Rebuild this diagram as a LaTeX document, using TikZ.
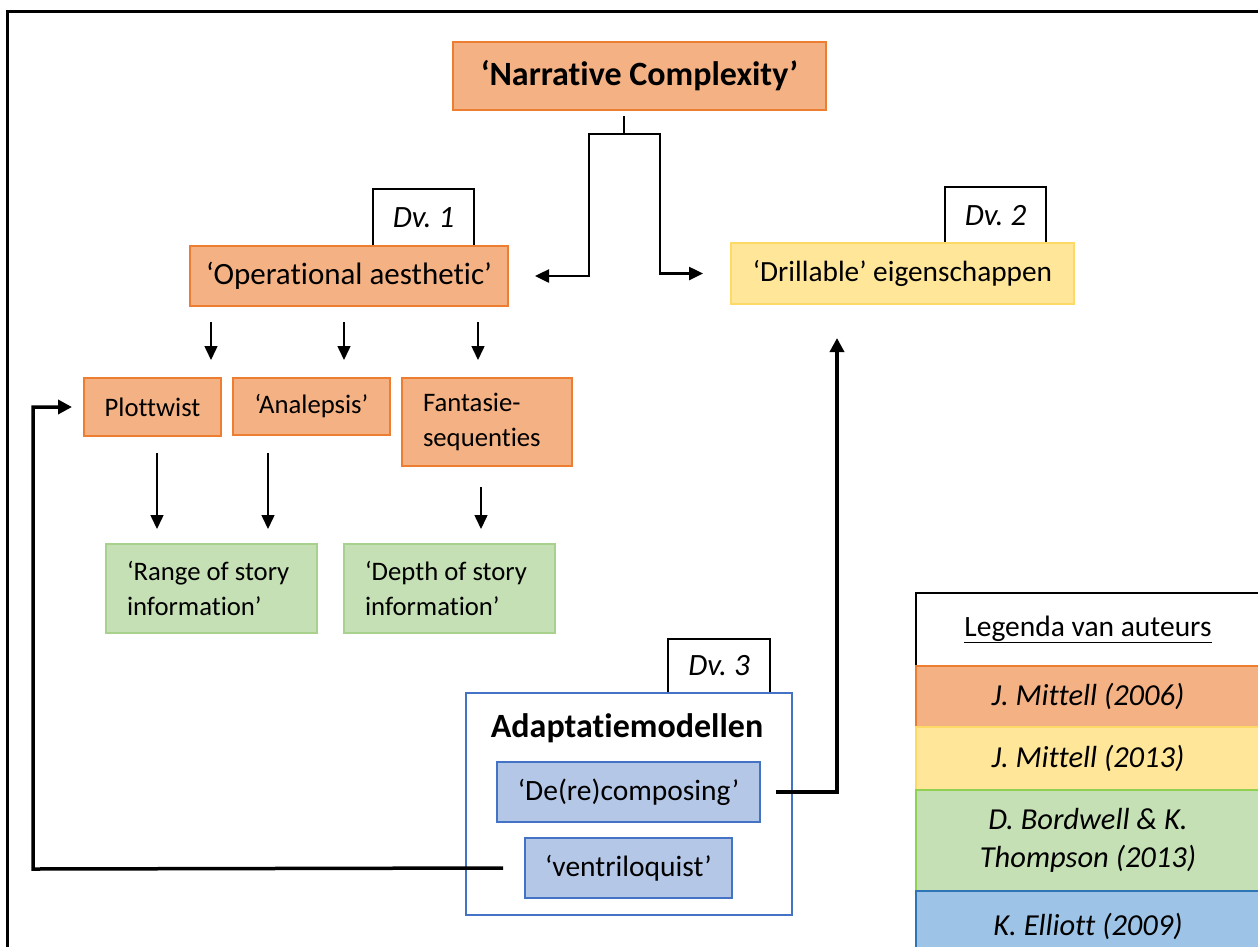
\documentclass[tikz,border=0pt]{standalone}
\usepackage{fontspec}
\setmainfont{Carlito}[Ligatures={NoCommon}]
\usetikzlibrary{arrows.meta,calc}
\frenchspacing
\definecolor{orF}{HTML}{F4B183}
\definecolor{orD}{HTML}{ED7D31}
\definecolor{yeF}{HTML}{FFE699}
\definecolor{yeD}{HTML}{FFD966}
\definecolor{grF}{HTML}{C5E0B4}
\definecolor{grD}{HTML}{A9D18E}
\definecolor{grL}{HTML}{92D050}
\definecolor{blF}{HTML}{B4C7E7}
\definecolor{blD}{HTML}{4472C4}
\definecolor{lbF}{HTML}{9DC3E6}
\definecolor{lbD}{HTML}{2E75B6}
\tikzset{
  base/.style={inner sep=0pt, outer sep=0pt, font=\fontsize{31}{34}\selectfont},
  small/.style={font=\fontsize{26.7}{35}\selectfont},
  obox/.style={base, rectangle, fill=orF, draw=orD, line width=2pt},
  ybox/.style={base, rectangle, fill=yeF, draw=yeD, line width=2pt},
  gbox/.style={base, rectangle, fill=grF, draw=grD, line width=1.5pt},
  bbox/.style={base, rectangle, fill=blF, draw=blD, line width=1.5pt, font=\fontsize{29.5}{34}\selectfont},
  dvbox/.style={base, rectangle, fill=white, draw=black, line width=1.5pt, font=\fontsize{31}{34}\selectfont\itshape},
  thinarr/.style={line width=1.5pt, -{Triangle[length=14pt,width=13pt]}},
  midarr/.style={line width=2.5pt, -{Triangle[length=14pt,width=13pt]}},
  bigarr/.style={line width=3.5pt, -{Triangle[length=14pt,width=14pt]}},
  legcell/.style={base, rectangle, minimum width=344pt, font=\fontsize{30.5}{38}\selectfont\itshape, align=center}
}
\begin{document}
\begin{tikzpicture}[x=1pt,y=-1pt]
\useasboundingbox (0,0) rectangle (1258,946);
\clip (0,0) rectangle (1258,946);
\fill[white] (0,0) rectangle (1258,946);
% outer frame
\draw[line width=3pt] (7,950) -- (7,11) -- (1262,11);

% top node
\node[obox, minimum width=373pt, minimum height=68pt, font=\fontsize{34}{38}\selectfont\bfseries] (nc) at (639.5,76) {‘Narrative Complexity’};

% Dv boxes (behind)
\node[dvbox, minimum width=101pt, minimum height=57pt] (dv1) at (423.5,217.5) {Dv. 1};
\node[dvbox, minimum width=101pt, minimum height=57pt] (dv2) at (995.5,215.5) {Dv. 2};

\node[obox, minimum width=318pt, minimum height=60pt] (oa) at (349,276) {‘Operational aesthetic’};
\node[ybox, minimum width=343pt, minimum height=61pt, font=\fontsize{29.3}{34}\selectfont] (dr) at (902.5,273.5) {‘Drillable’ eigenschappen};

% top connector
\coordinate (j) at (624,134);
\draw[line width=2.5pt] ([yshift=-6pt]nc.south -| j) -- (j);
\draw[midarr] (j) -- (589,134) |- ([xshift=27pt]oa.east);
\draw[midarr] (j) -- (660,134) |- ([xshift=-28pt]dr.west);

% second row
\node[obox, small, minimum width=137pt, minimum height=58pt] (pt) at (152.5,407) {Plottwist};
\node[obox, small, minimum width=157pt, minimum height=57pt] (an) at (311.5,406.5) {‘Analepsis’};
\node[obox, small, minimum height=88pt, inner xsep=21pt, text width=128pt, align=flush left] (fs) at (487,422) {Fantasie-\\sequenties};

% arrows oa -> row
\coordinate (a1s) at (211,322); \coordinate (a1e) at (211,360);
\coordinate (a2s) at (344,322); \coordinate (a2e) at (344,360);
\coordinate (a3s) at (478,322); \coordinate (a3e) at (478,360);
\draw[thinarr] (a1s) -- (a1e);
\draw[thinarr] (a2s) -- (a2e);
\draw[thinarr] (a3s) -- (a3e);

% green row
\node[gbox, small, minimum height=89pt, inner xsep=21pt, text width=169pt, align=flush left] (rg) at (211.5,588.5) {‘Range of story\\information’};
\node[gbox, small, minimum height=89pt, inner xsep=21pt, text width=169pt, align=flush left] (dp) at (449.5,588.5) {‘Depth of story\\information’};

\coordinate (b1s) at (157,453); \coordinate (b1e) at (157,529);
\coordinate (b2s) at (268,453); \coordinate (b2e) at (268,529);
\coordinate (b3s) at (481,487); \coordinate (b3e) at (481,529);
\draw[thinarr] (b1s) -- (b1e);
\draw[thinarr] (b2s) -- (b2e);
\draw[thinarr] (b3s) -- (b3e);

% adaptatie group
\node[dvbox, minimum width=102pt, minimum height=54pt] (dv3) at (719,666) {Dv. 3};
\node[base, rectangle, fill=white, draw=blD, line width=2pt, minimum width=326pt, minimum height=222pt] (ad) at (629,804) {};
\node[base, font=\fontsize{34}{38}\selectfont\bfseries] (adt) at (627,728) {Adaptatiemodellen};
\node[bbox, minimum width=263pt, minimum height=60pt] (dc) at (628.5,792) {‘De(re)composing’};
\node[bbox, minimum width=207pt, minimum height=60pt] (vq) at (628.5,868) {‘ventriloquist’};

% long connectors
\coordinate (up) at (837,338);
\draw[bigarr] ([xshift=16pt]dc.east) -| (up);
\coordinate (lc) at (33,869);
\draw[bigarr] ([xshift=-22pt]vq.west) -- (lc) |- ([xshift=-12pt]pt.west);

% legend
\node[legcell, minimum height=73pt, fill=white, font=\fontsize{29.5}{34}\selectfont] (lh) at (1088,629.5) {\underline{Legenda van auteurs}};
\draw[line width=2pt] (916,950) -- (916,593) -- (1262,593);
\node[legcell, minimum height=61pt, fill=orF, draw=orD, line width=2pt] (l1) at (1088,696.5) {J. Mittell (2006)};
\node[legcell, minimum height=63pt, fill=yeF, draw=yeD, line width=2pt] (l2) at (1088,758.5) {J. Mittell (2013)};
\node[legcell, minimum height=101pt, fill=grF, draw=grL, line width=2pt] (l3) at (1088,840.5) {D. Bordwell \& K.\\Thompson (2013)};
\node[legcell, minimum height=70pt, fill=lbF, draw=lbD, line width=2pt] (l4) at (1088,926) {K. Elliott (2009)};
\end{tikzpicture}
\end{document}
